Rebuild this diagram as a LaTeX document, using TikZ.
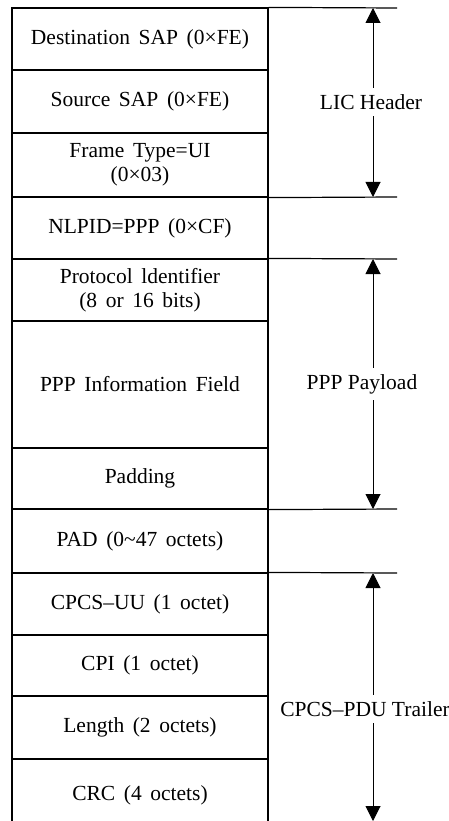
\documentclass[tikz,border=0pt]{standalone}
\usepackage{fontspec}
\setmainfont{Liberation Serif}
\usetikzlibrary{arrows.meta}
\newcommand\framefont{\fontsize{21.5}{24}\selectfont\spaceskip=0.4em plus 0.1em\relax}
\newcommand\tagfont{\fontsize{21.5}{24}\selectfont}
\begin{document}
\begin{tikzpicture}[x=1pt,y=-1pt,
  field/.style={draw, line width=1.2pt, minimum width=256pt, inner sep=0pt,
    align=center, font=\framefont},
  rule/.style={line width=1.2pt},
  span/.style={line width=1pt, {Triangle[width=15pt,length=15pt]}-{Triangle[width=15pt,length=15pt]}},
  tag/.style={fill=white, inner xsep=1pt, inner ysep=6pt, font=\tagfont}]
\clip (0,0) rectangle (449,821);
\fill[white] (0,0) rectangle (449,821);

% frame fields, top to bottom
\node[field, minimum height=62pt]  (dest)   at (140,39)    {Destination SAP (0×FE)};
\node[field, minimum height=63pt]  (src)    at (140,101.5) {Source SAP (0×FE)};
\node[field, minimum height=64pt]  (ftype)  at (140,165)   {Frame Type=UI\\(0×03)};
\node[field, minimum height=62pt]  (nlpid)  at (140,228)   {NLPID=PPP (0×CF)};
\node[field, minimum height=62pt]  (proto)  at (140,290)   {Protocol ldentifier\\(8 or 16 bits)};
\node[field, minimum height=127pt] (info)   at (140,384.5) {PPP Information Field};
\node[field, minimum height=61pt]  (padd)   at (140,478.5) {Padding};
\node[field, minimum height=64pt]  (pad)    at (140,541)   {PAD (0\textasciitilde47 octets)};
\node[field, minimum height=62pt]  (uu)     at (140,604)   {CPCS–UU (1 octet)};
\node[field, minimum height=61pt]  (cpi)    at (140,665.5) {CPI (1 octet)};
\node[field, minimum height=63pt]  (len)    at (140,727.5) {Length (2 octets)};
\node[field, minimum height=72pt]  (crc)    at (140,795)   {CRC (4 octets)};

% boundary rules on the right
\coordinate (r1) at (397,8);
\coordinate (r2) at (397,197);
\coordinate (r3) at (397,259);
\coordinate (r4) at (397,509);
\coordinate (r5) at (397,573);
\draw[rule] (dest.north east) -- (r1);
\draw[rule] (ftype.south east) -- (r2);
\draw[rule] (proto.north east) -- (r3);
\draw[rule] (padd.south east) -- (r4);
\draw[rule] (uu.north east) -- (r5);

% span arrows
\coordinate (a1) at (373,8);
\coordinate (b1) at (373,197);
\coordinate (a2) at (373,259);
\coordinate (b2) at (373,509);
\coordinate (a3) at (373,573);
\coordinate (b3) at (373,821);
\draw[span] (a1) -- (b1);
\draw[span] (a2) -- (b2);
\draw[span] (a3) -- (b3);

\node[tag] (lic)  at (371,102) {LIC Header};
\node[tag] (ppp)  at (362,384) {PPP Payload};
\node[tag] (cpcs) at (365,709) {CPCS–PDU Trailer};
\end{tikzpicture}
\end{document}
